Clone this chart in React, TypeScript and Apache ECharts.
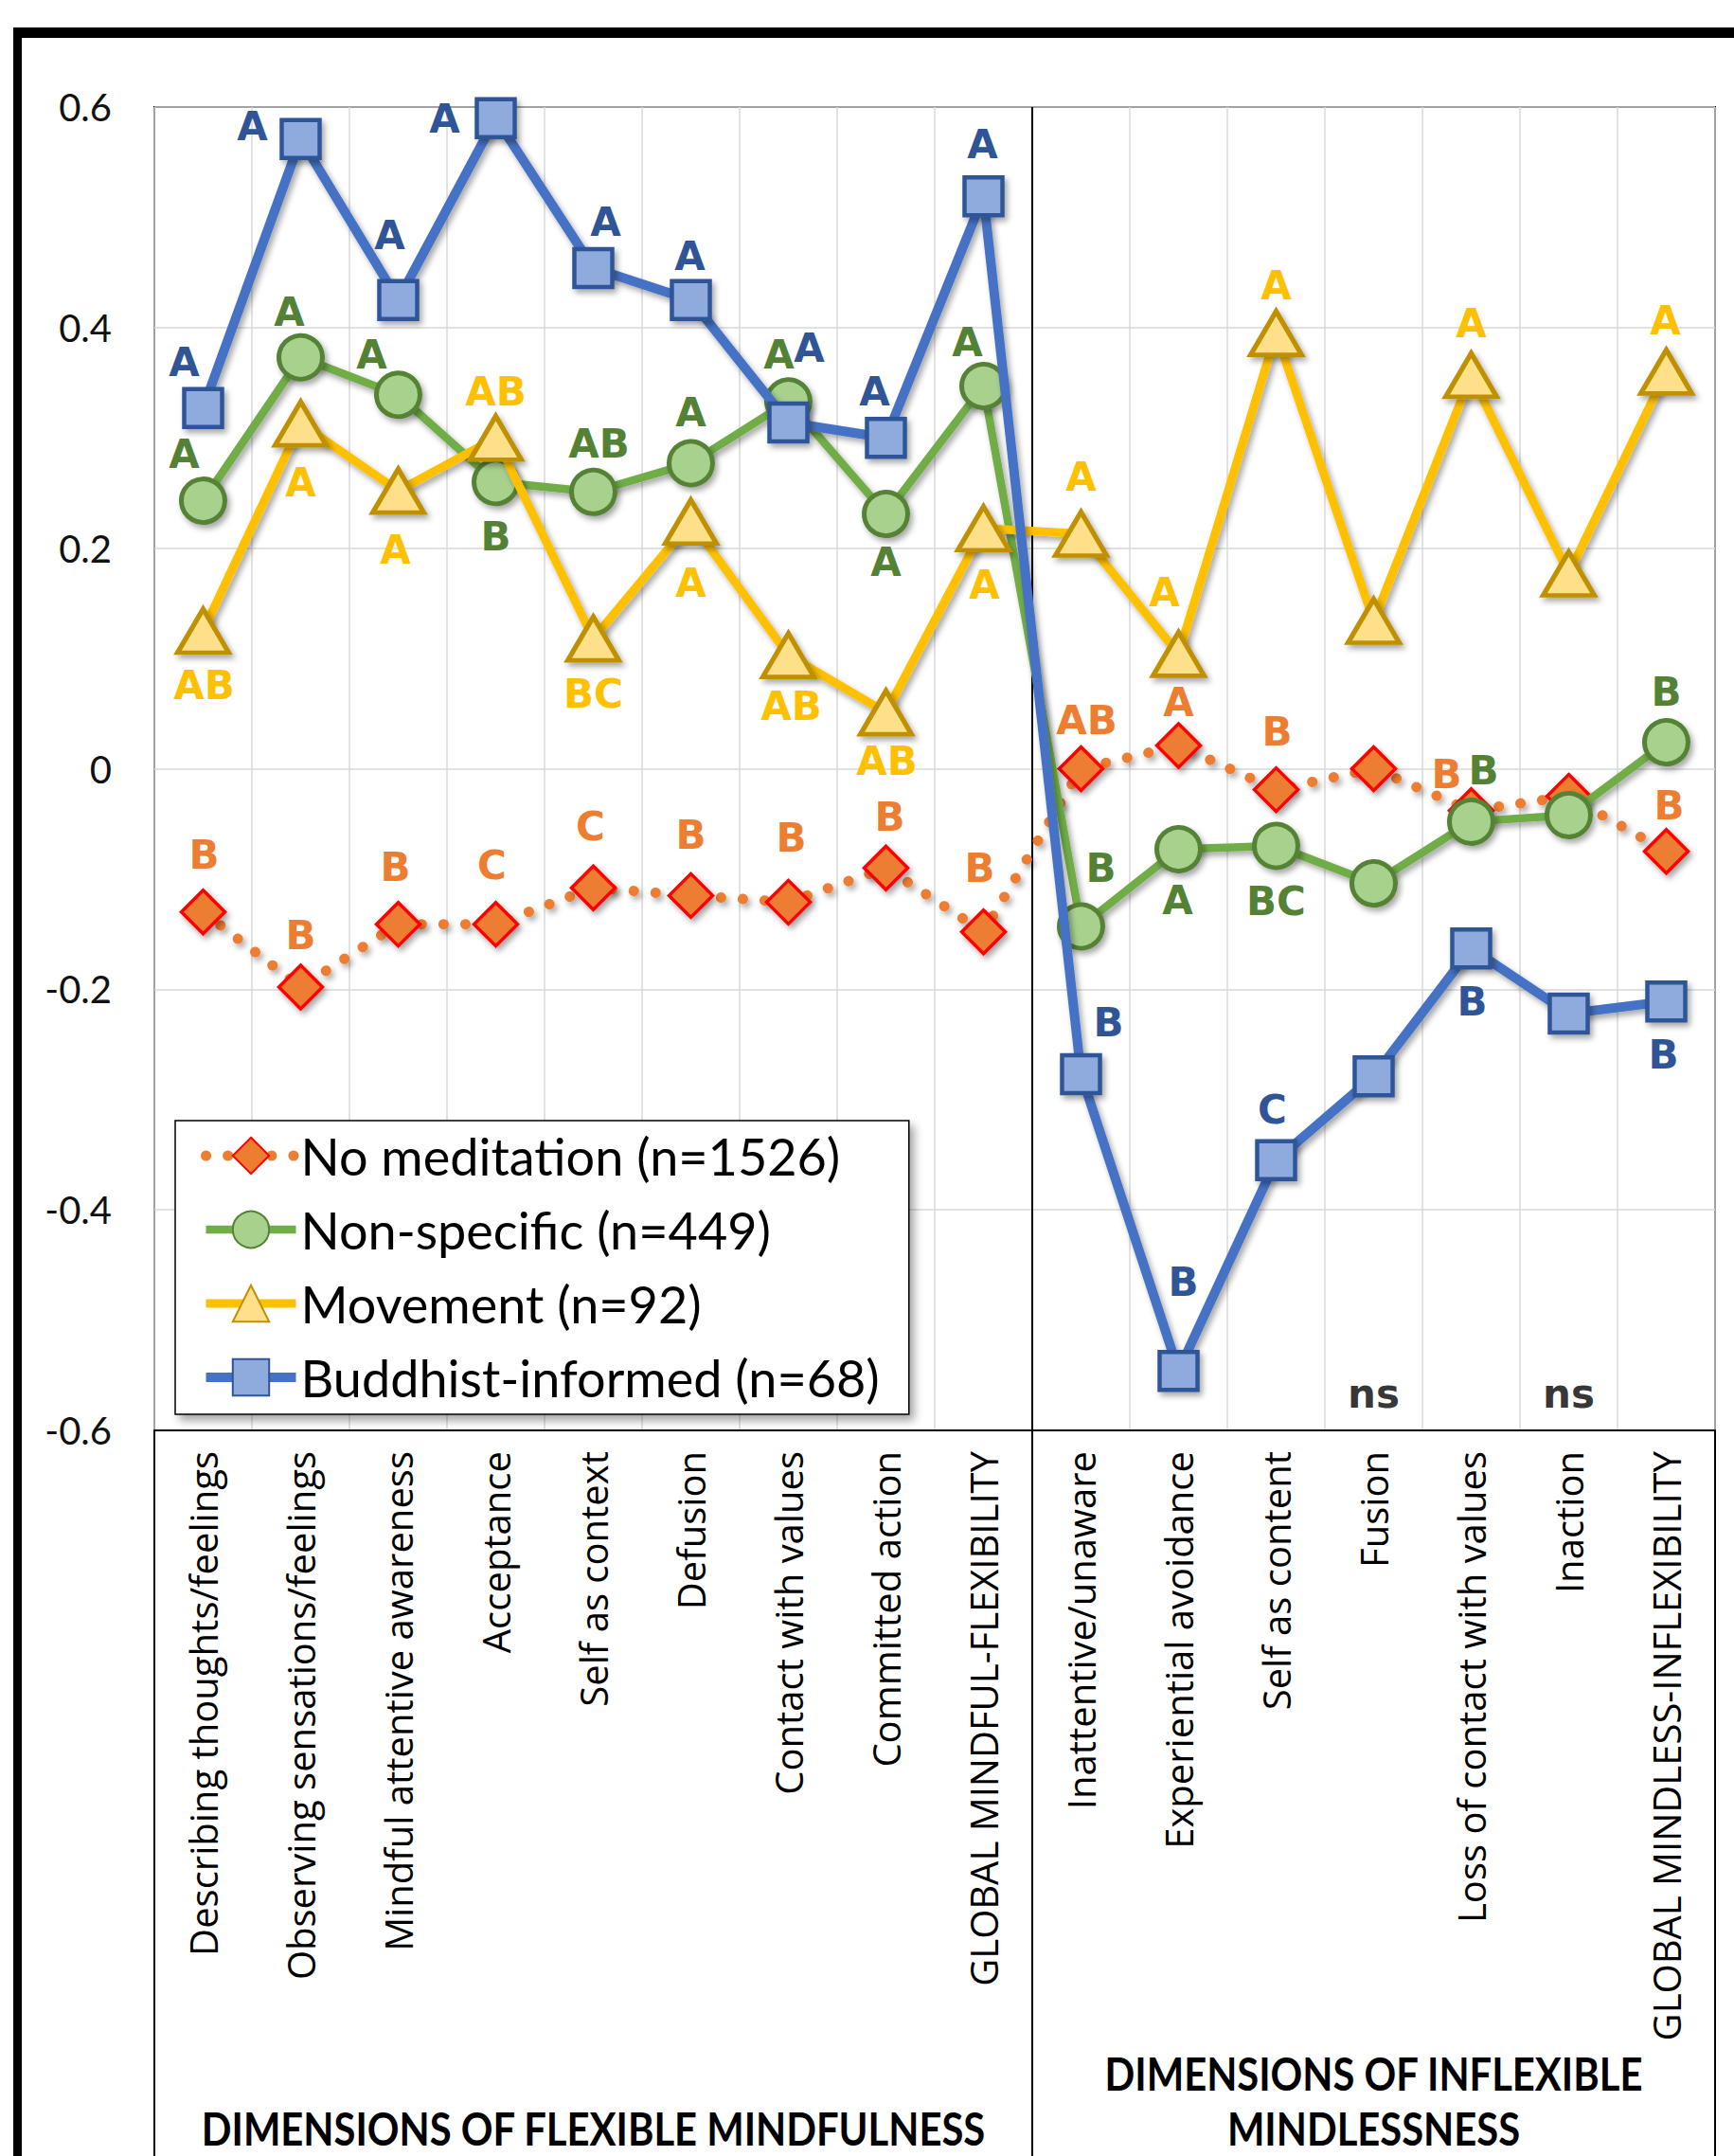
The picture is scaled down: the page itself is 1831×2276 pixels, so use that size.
import React, { useEffect, useRef } from "react";
import * as echarts from "echarts";

const categories = [
  "Describing thoughts/feelings",
  "Observing sensations/feelings",
  "Mindful attentive awareness",
  "Acceptance",
  "Self as context",
  "Defusion",
  "Contact with values",
  "Committed action",
  "GLOBAL MINDFUL-FLEXIBILITY",
  "Inattentive/unaware",
  "Experiential avoidance",
  "Self as content",
  "Fusion",
  "Loss of contact with values",
  "Inaction",
  "GLOBAL MINDLESS-INFLEXIBILITY",
];

const seriesNames = [
  "No meditation (n=1526)",
  "Non-specific (n=449)",
  "Movement (n=92)",
  "Buddhist-informed (n=68)",
];

const noMeditation = [-0.13, -0.198, -0.141, -0.141, -0.108, -0.115, -0.121, -0.09, -0.148, 0.0, 0.021, -0.019, 0.0, -0.038, -0.025, -0.075];
const nonSpecific = [0.243, 0.373, 0.339, 0.26, 0.251, 0.277, 0.333, 0.231, 0.347, -0.143, -0.073, -0.07, -0.104, -0.048, -0.042, 0.024];
const movement = [0.125, 0.313, 0.252, 0.3, 0.118, 0.224, 0.103, 0.051, 0.218, 0.213, 0.104, 0.395, 0.134, 0.357, 0.177, 0.36];
const buddhist = [0.327, 0.571, 0.425, 0.59, 0.454, 0.425, 0.314, 0.3, 0.519, -0.277, -0.546, -0.355, -0.279, -0.163, -0.222, -0.211];

const noMeditationLetters = ["B", "B", "B", "C", "C", "B", "B", "B", "B", "AB", "A", "B", "", "B", "", "B"];
const nonSpecificLetters = ["A", "A", "A", "B", "AB", "A", "A", "A", "A", "B", "A", "BC", "", "B", "", "B"];
const movementLetters = ["AB", "A", "A", "AB", "BC", "A", "AB", "AB", "A", "A", "A", "A", "", "A", "", "A"];
const buddhistLetters = ["A", "A", "A", "A", "A", "A", "A", "A", "A", "B", "B", "C", "", "B", "", "B"];

// "ns" annotations (non-significant)
const nsCategories = ["Fusion", "Inaction"];
const nsLevel = -0.567;

const yTicks = { min: -0.6, max: 0.6, interval: 0.2 };

const groupLabels = ["DIMENSIONS OF FLEXIBLE MINDFULNESS", "DIMENSIONS OF INFLEXIBLE", "MINDLESSNESS"];
const flexibleCount = 9;

// label offsets (px, relative to the marker centre) — styling only
const noMedOffsets = [[1, -60], [0, -55], [-3, -60], [-4, -62], [-3, -65], [0, -64], [3, -68], [4, -54], [-4, -67], [6, -51], [0, -46], [1, -61], null, [-26, -38], null, [3, -48]];
const nonSpecOffsets = [[-20, -49], [-12, -48], [-28, -42], [0, 58], [6, -51], [0, -54], [-10, -49], [0, 51], [-17, -46], [21, -61], [-1, 54], [0, 59], null, [13, -54], null, [0, -53]];
const movementOffsets = [[1, 58], [0, 62], [-3, 62], [0, -49], [0, 58], [0, 65], [3, 54], [1, 51], [1, 60], [0, -60], [-15, -65], [0, -50], null, [0, -54], null, [-1, -54]];
const buddhistOffsets = [[-20, -48], [-51, -13], [-9, -68], [-54, 1], [13, -48], [-1, -46], [22, -78], [-12, -49], [-1, -55], [29, -54], [5, -94], [-4, -53], null, [1, 56], null, [-3, 56]];

const W = 1831;
const H = 2276;
const GRID_LEFT = 163;
const GRID_TOP = 113;
const GRID_W = 1648;
const GRID_H = 1397;

const LETTER_FONT = "'DejaVu Sans', sans-serif";
const TEXT_FONT = "Lato, 'Open Sans', sans-serif";
const CAT_FONT = "'Open Sans', Lato, sans-serif";

const shadow = {
  shadowColor: "rgba(0,0,0,0.35)",
  shadowBlur: 6,
  shadowOffsetX: 3,
  shadowOffsetY: 4,
};

function buildData(values: number[], letters: string[], offsets: any[], labelColor: string) {
  return values.map((v, i) => {
    const letter = letters[i];
    const off = offsets[i] || [0, 0];
    return {
      value: v,
      label: letter
        ? {
            show: true,
            formatter: letter,
            position: "inside",
            offset: off,
            color: labelColor,
            fontFamily: LETTER_FONT,
            fontWeight: "bold",
            fontSize: 42,
          }
        : { show: false },
    };
  });
}

export default function App() {
  const ref = useRef<HTMLDivElement>(null);

  useEffect(() => {
    document.body.style.margin = "0";
    const chart = echarts.init(ref.current!, null, { renderer: "svg" });
    const catW = GRID_W / categories.length;
    const dividerX = GRID_LEFT + flexibleCount * catW;
    const bottomY = GRID_TOP + GRID_H;

    const groupText = (text: string, x: number, y: number) => ({
      type: "text",
      z: 10,
      x,
      y,
      scaleX: 0.87,
      style: {
        text,
        align: "center",
        verticalAlign: "middle",
        fontFamily: TEXT_FONT,
        fontWeight: "bold",
        fontSize: 48,
        fill: "#000",
      },
    });

    const option: any = {
      animation: false,
      backgroundColor: "#fff",
      grid: {
        left: GRID_LEFT,
        top: GRID_TOP,
        width: GRID_W,
        height: GRID_H,
        show: true,
        borderColor: "#000",
        borderWidth: 2,
        backgroundColor: "transparent",
      },
      legend: {
        orient: "vertical",
        left: 185,
        top: 1183,
        padding: [9, 31, 11, 27],
        itemWidth: 95,
        itemHeight: 48,
        itemGap: 22,
        backgroundColor: "#fff",
        borderColor: "#000",
        borderWidth: 1.5,
        shadowColor: "rgba(0,0,0,0.35)",
        shadowBlur: 10,
        shadowOffsetX: 5,
        shadowOffsetY: 6,
        lineStyle: { width: "inherit", type: "inherit" },
        textStyle: {
          fontFamily: TEXT_FONT,
          fontSize: 54,
          lineHeight: 56,
          color: "#000",
          padding: [0, 0, 0, 0],
        },
        data: seriesNames,
      },
      xAxis: {
        type: "category",
        data: categories,
        boundaryGap: true,
        axisLine: { show: true, onZero: false, lineStyle: { color: "#000", width: 2 } },
        axisTick: { show: false },
        splitLine: { show: true, interval: 0, lineStyle: { color: "#D9D9D9", width: 1.5 } },
        axisLabel: {
          interval: 0,
          rotate: 90,
          margin: 22,
          fontFamily: CAT_FONT,
          fontSize: 40,
          color: "#000",
        },
      },
      yAxis: {
        type: "value",
        min: yTicks.min,
        max: yTicks.max,
        interval: yTicks.interval,
        axisLine: { show: false },
        axisTick: { show: false },
        splitLine: { show: true, lineStyle: { color: "#D9D9D9", width: 1.5 } },
        axisLabel: {
          margin: 45,
          fontFamily: TEXT_FONT,
          fontSize: 40,
          color: "#111",
          formatter: (v: number) => {
            const r = Math.round(v * 10) / 10;
            return r === 0 ? "0" : String(r);
          },
        },
      },
      series: [
        {
          name: seriesNames[0],
          type: "line",
          z: 3,
          data: buildData(noMeditation, noMeditationLetters, noMedOffsets, "#ED7D31"),
          symbol: "diamond",
          symbolSize: 46,
          lineStyle: { color: "#ED7D31", width: 11, type: [0.1, 23], cap: "round", ...shadow },
          itemStyle: { color: "#ED7D31", borderColor: "#FF0000", borderWidth: 3.5, ...shadow },
        },
        {
          name: seriesNames[1],
          type: "line",
          z: 4,
          data: buildData(nonSpecific, nonSpecificLetters, nonSpecOffsets, "#548235"),
          symbol: "circle",
          symbolSize: 46,
          lineStyle: { color: "#70AD47", width: 8.5, ...shadow },
          itemStyle: { color: "#A9D18E", borderColor: "#548235", borderWidth: 5, ...shadow },
        },
        {
          name: seriesNames[2],
          type: "line",
          z: 5,
          data: buildData(movement, movementLetters, movementOffsets, "#FFC000"),
          symbol: "triangle",
          symbolSize: [54, 46],
          lineStyle: { color: "#FFC000", width: 9, ...shadow },
          itemStyle: { color: "#FFE08A", borderColor: "#BF9000", borderWidth: 5, ...shadow },
        },
        {
          name: seriesNames[3],
          type: "line",
          z: 6,
          data: buildData(buddhist, buddhistLetters, buddhistOffsets, "#2F5597"),
          symbol: "rect",
          symbolSize: 40,
          lineStyle: { color: "#4472C4", width: 10, ...shadow },
          itemStyle: { color: "#8FAADC", borderColor: "#2F5597", borderWidth: 4.5, ...shadow },
        },
        {
          name: "ns",
          type: "scatter",
          z: 7,
          symbolSize: 1,
          itemStyle: { color: "transparent" },
          data: nsCategories.map((c) => [c, nsLevel]),
          label: {
            show: true,
            position: "inside",
            formatter: "ns",
            color: "#000",
            fontFamily: LETTER_FONT,
            fontWeight: "bold",
            fontSize: 42,
          },
          silent: true,
        },
      ],
      graphic: [
        // outer frame
        { type: "rect", z: 1, shape: { x: 14, y: 29, width: W - 14, height: 11 }, style: { fill: "#000" } },
        { type: "rect", z: 1, shape: { x: 14, y: 29, width: 9, height: H - 29 }, style: { fill: "#000" } },
        // divider between the two groups and category-area borders
        { type: "line", z: 1, shape: { x1: dividerX, y1: GRID_TOP, x2: dividerX, y2: H }, style: { stroke: "#000", lineWidth: 2 } },
        { type: "line", z: 1, shape: { x1: GRID_LEFT, y1: bottomY, x2: GRID_LEFT, y2: H }, style: { stroke: "#000", lineWidth: 2 } },
        { type: "line", z: 1, shape: { x1: GRID_LEFT + GRID_W, y1: bottomY, x2: GRID_LEFT + GRID_W, y2: H }, style: { stroke: "#000", lineWidth: 2 } },
        groupText(groupLabels[0], GRID_LEFT + (flexibleCount / 2) * catW, 2247),
        groupText(groupLabels[1], dividerX + ((categories.length - flexibleCount) / 2) * catW, 2189),
        groupText(groupLabels[2], dividerX + ((categories.length - flexibleCount) / 2) * catW, 2247),
      ],
    };

    chart.setOption(option);
    return () => chart.dispose();
  }, []);

  return <div ref={ref} style={{ width: W, height: H }} />;
}
